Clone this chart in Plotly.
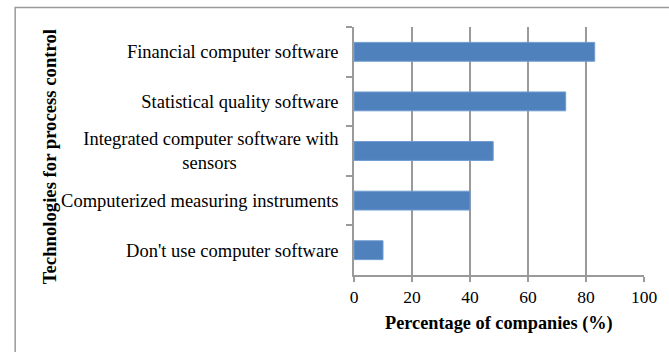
import plotly.graph_objects as go

categories = [
    "Financial computer software",
    "Statistical quality software",
    "Integrated computer software with<br>sensors" + "&nbsp;" * 22,
    "Computerized measuring instruments",
    "Don't use computer software",
]
values = [83, 73, 48, 40, 10]
x_ticks = [0, 20, 40, 60, 80, 100]
x_title = "Percentage of companies (%)"
y_title = "Technologies for process control"

FONT = "Liberation Serif, Times New Roman, serif"
GRAY = "#9a9a9a"

fig = go.Figure(
    go.Bar(
        x=values,
        y=categories,
        orientation="h",
        marker=dict(color="#4f81bd", line=dict(color="#6f9bd1", width=1)),
        width=0.38,
    )
)

fig.update_layout(
    width=669,
    height=352,
    margin=dict(l=354, r=21, t=27, b=77),
    paper_bgcolor="white",
    plot_bgcolor="white",
    showlegend=False,
    font=dict(family=FONT, size=17, color="black"),
)

fig.update_xaxes(
    range=[0, 100],
    tickvals=x_ticks,
    showgrid=True,
    gridcolor=GRAY,
    gridwidth=1.5,
    showline=True,
    linecolor=GRAY,
    linewidth=1.5,
    ticks="outside",
    ticklen=5,
    tickcolor=GRAY,
    tickwidth=1.5,
    zeroline=False,
    tickfont=dict(family=FONT, size=17.5, color="black"),
)

fig.update_yaxes(
    categoryorder="array",
    categoryarray=categories,
    autorange="reversed",
    showline=True,
    linecolor=GRAY,
    linewidth=1.5,
    ticks="outside",
    tickson="boundaries",
    ticklen=6,
    tickcolor=GRAY,
    tickwidth=1.5,
    showgrid=False,
    zeroline=False,
    ticklabelstandoff=10,
    tickfont=dict(family=FONT, size=18.5, color="black"),
)

# axis titles
fig.add_annotation(
    text="<b>" + x_title + "</b>",
    xref="paper", yref="paper",
    x=0.5, y=(275 - 323) / 248,
    xanchor="center", yanchor="middle",
    showarrow=False,
    font=dict(family=FONT, size=18.3, color="black"),
)
fig.add_annotation(
    text="<b>" + y_title + "</b>",
    xref="paper", yref="paper",
    x=(45 - 354) / 294, y=(275 - 157) / 248,
    xanchor="center", yanchor="middle",
    textangle=-90,
    showarrow=False,
    font=dict(family=FONT, size=18.7, color="black"),
)

# outer chart border
fig.add_shape(
    type="rect",
    xref="paper", yref="paper",
    x0=(10.5 - 354) / 294, x1=2.0,
    y0=-2.0, y1=(275 - 7.5) / 248,
    line=dict(color=GRAY, width=1.5),
    fillcolor="rgba(0,0,0,0)",
    layer="below",
)

fig.write_html("out.html")
